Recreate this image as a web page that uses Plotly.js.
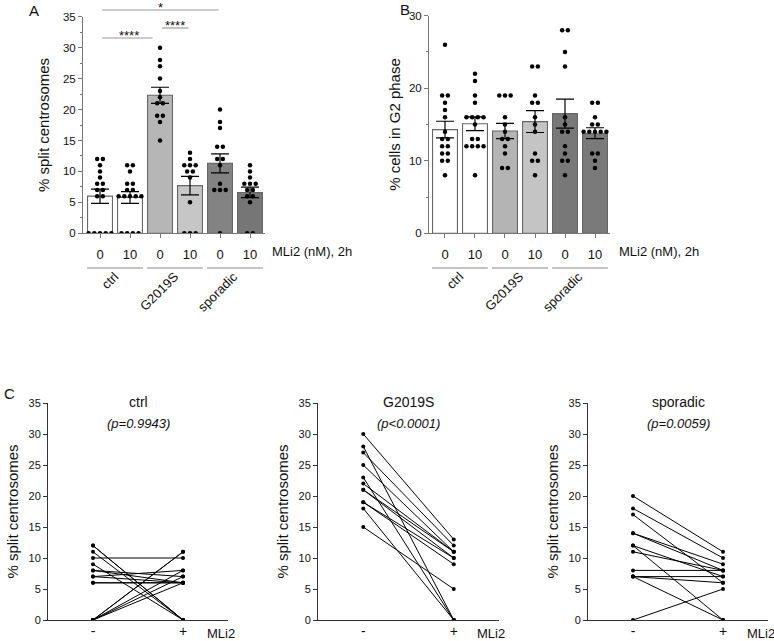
<!DOCTYPE html>
<html>
<head>
<meta charset="utf-8">
<script src="https://cdn.plot.ly/plotly-3.0.1.min.js"></script>
<style>html,body{margin:0;padding:0;background:#fff}#chart{width:774px;height:641px}</style>
</head>
<body>
<div id="chart"></div>
<script>
// ---------- data ----------
const conditions = ['0', '10', '0', '10', '0', '10'];
const groups = ['ctrl', 'G2019S', 'sporadic'];
const doseLabel = 'MLi2 (nM), 2h';

// Panel A: % split centrosomes (bar means and SEM)
const splitMean = [6.0, 5.8, 22.3, 7.7, 11.3, 6.6];
const splitSem = [1.15, 0.95, 1.3, 1.5, 1.55, 0.85];

// Panel C paired values (- MLi2 / + MLi2), also the dots of panel A
const ctrlMinus = [12, 12, 11, 9, 10, 8, 8, 7, 7, 6, 6, 0, 0, 0, 0, 0];
const ctrlPlus = [0, 0, 0, 0, 10, 7, 6, 8, 6, 6, 6, 11, 11, 8, 7, 6];
const g2019sMinus = [30, 28, 27, 25, 23, 22, 21, 21, 19, 19, 18, 15];
const g2019sPlus = [13, 0, 12, 11, 0, 11, 10, 11, 10, 9, 0, 5];
const sporadicMinus = [20, 18, 17, 14, 14, 12, 12, 11, 8, 7, 7, 7, 0];
const sporadicPlus = [11, 10, 6, 9, 8, 7, 0, 8, 8, 7, 6, 0, 5];
const pValues = ['(p=0.9943)', '(p<0.0001)', '(p=0.0059)'];

// Panel B: % cells in G2 phase
const g2Mean = [14.3, 15.1, 14.1, 15.4, 16.5, 13.8];
const g2Sem = [1.15, 0.95, 1.05, 1.5, 2.0, 0.75];
const g2Ctrl0 = [26, 19, 19, 18, 17, 16, 14, 13, 13, 12, 12, 11, 11, 10, 10, 8];
const g2Ctrl10 = [22, 21, 19, 18, 16, 16, 16, 16, 15, 13, 13, 12, 12, 12, 12, 8];
const g2G2019S0 = [19, 19, 19, 16, 15, 14, 13, 13, 12, 11, 9, 9];
const g2G2019S10 = [23, 23, 19, 18, 18, 16, 15, 14, 11, 10, 10, 8];
const g2Sporadic0 = [28, 28, 25, 23, 16, 15, 14, 14, 12, 11, 10, 10, 8];
const g2Sporadic10 = [18, 18, 16, 15, 15, 14, 14, 14, 14, 14, 11, 11, 10, 9];

// significance brackets in panel A: [from bar, to bar, label]
const sigFrom = [0, 0, 2];
const sigTo = [4, 2, 3];
const sigLabel = ['*', '****', '****'];

// ---------- styles ----------
const W = 774, H = 641;
const FONT = 'Liberation Sans, Arial, Helvetica, sans-serif';
const barFillA = ['#ffffff', '#ffffff', '#b6b6b6', '#c6c6c6', '#838383', '#767676'];
const barFillB = ['#ffffff', '#ffffff', '#b4b4b4', '#c4c4c4', '#787878', '#7a7a7a'];
const px = v => v / W;
const py = v => 1 - v / H;

function spread(vals, center, step) {
  const counts = {}, idx = {};
  vals.forEach(v => counts[v] = (counts[v] || 0) + 1);
  return vals.map(v => {
    const k = idx[v] = (idx[v] || 0);
    idx[v]++;
    return center + (k - (counts[v] - 1) / 2) * step;
  });
}
function dotTrace(sets, xa, ya) {
  const xs = [], ys = [];
  sets.forEach((s, i) => { xs.push(...spread(s, i, 0.19)); ys.push(...s); });
  return {type: 'scatter', mode: 'markers', x: xs, y: ys, xaxis: xa, yaxis: ya,
    marker: {color: '#000', size: 4.5}, hoverinfo: 'y', showlegend: false};
}
function barTrace(means, sems, fills, xa, ya) {
  return {type: 'bar', x: [0, 1, 2, 3, 4, 5], y: means, width: 0.83, xaxis: xa, yaxis: ya,
    marker: {color: fills, line: {color: '#666', width: 1.1}},
    error_y: {type: 'data', array: sems, visible: true, color: '#000', thickness: 1.2, width: 9},
    showlegend: false, hoverinfo: 'y'};
}
function pairTrace(minus, plus, xa, ya) {
  const xs = [], ys = [];
  minus.forEach((m, i) => { xs.push(0, 1, null); ys.push(m, plus[i], null); });
  return {type: 'scatter', mode: 'lines+markers', x: xs, y: ys, xaxis: xa, yaxis: ya,
    line: {color: '#000', width: 1}, marker: {color: '#000', size: 4},
    showlegend: false, hoverinfo: 'y', connectgaps: false};
}

const traces = [
  barTrace(splitMean, splitSem, barFillA, 'x', 'y'),
  dotTrace([ctrlMinus, ctrlPlus, g2019sMinus, g2019sPlus, sporadicMinus, sporadicPlus], 'x', 'y'),
  barTrace(g2Mean, g2Sem, barFillB, 'x2', 'y2'),
  dotTrace([g2Ctrl0, g2Ctrl10, g2G2019S0, g2G2019S10, g2Sporadic0, g2Sporadic10], 'x2', 'y2'),
  pairTrace(ctrlMinus, ctrlPlus, 'x3', 'y3'),
  pairTrace(g2019sMinus, g2019sPlus, 'x4', 'y4'),
  pairTrace(sporadicMinus, sporadicPlus, 'x5', 'y5')
];

const tickFontBig = {family: FONT, size: 13, color: '#111'};
const barX = (dom, lo) => ({
  domain: dom, range: [lo, 5.5], showline: true, linecolor: '#777', linewidth: 1,
  ticks: 'outside', ticklen: 4, tickcolor: '#777', tickvals: [0, 1, 2, 3, 4, 5], ticktext: conditions,
  tickfont: tickFontBig, ticklabelstandoff: 5, showgrid: false, zeroline: false, fixedrange: true
});
const barY = (dom, max, dt, title, stand) => ({
  domain: dom, range: [0, max], dtick: dt, showline: true, linecolor: '#777', linewidth: 1,
  ticks: 'outside', ticklen: 4, tickcolor: '#777', tickfont: {family: FONT, size: 11.5, color: '#111'},
  minor: {ticks: 'outside', ticklen: 2.5, dtick: dt / 2, tickcolor: '#777', showgrid: false},
  showgrid: false, zeroline: false, fixedrange: true,
  title: {text: title, font: {family: FONT, size: 15, color: '#111'}, standoff: stand}
});
const cX = (dom) => ({
  domain: dom, range: [-0.5, 1.5], showline: true, linecolor: '#333', linewidth: 1, ticks: '',
  tickvals: [0, 1], ticktext: ['-', '+'], tickfont: {family: FONT, size: 14, color: '#111'},
  ticklabelstandoff: -2, showgrid: false, zeroline: false, fixedrange: true
});
const cY = (dom) => ({
  domain: dom, range: [0, 35], dtick: 5, showline: true, linecolor: '#333', linewidth: 1,
  ticks: 'outside', ticklen: 4, tickcolor: '#333', tickfont: {family: FONT, size: 11, color: '#111'},
  showgrid: false, zeroline: false, fixedrange: true,
  title: {text: '% split centrosomes', font: {family: FONT, size: 15, color: '#111'}, standoff: 6}
});

const yDomAB = [py(233.3), py(16.7)];
const yDomC = [py(620), py(403)];

const annotations = [];
const shapes = [];
const txt = (o) => Object.assign({showarrow: false, xanchor: 'center', yanchor: 'middle',
  font: {family: FONT, size: 13, color: '#111'}}, o);

// panel letters
annotations.push(txt({xref: 'paper', yref: 'paper', x: px(34), y: py(11), text: 'A', font: {family: FONT, size: 15, color: '#111'}}));
annotations.push(txt({xref: 'paper', yref: 'paper', x: px(405), y: py(10), text: 'B', font: {family: FONT, size: 15, color: '#111'}}));
annotations.push(txt({xref: 'paper', yref: 'paper', x: px(9), y: py(393), text: 'C', font: {family: FONT, size: 15, color: '#111'}}));

// dose labels and group labels for A and B
[['x', 270], ['x2', 617]].forEach(([xa, left]) => {
  annotations.push(txt({xref: 'paper', yref: 'paper', x: px(left), y: py(252), xanchor: 'left', text: doseLabel}));
  groups.forEach((g, i) => {
    const c = 2 * i + 0.5;
    shapes.push({type: 'line', xref: xa, yref: 'paper', x0: c - 0.93, x1: c + 0.93, y0: py(268), y1: py(268),
      line: {color: '#888', width: 1}});
    annotations.push(txt({xref: xa, yref: 'paper', x: c, xshift: 9, y: py(266), xanchor: 'right', yanchor: 'top',
      textangle: -45, text: g}));
  });
});

// significance brackets in A
const sigY = [10, 38, 28];
sigFrom.forEach((f, i) => {
  shapes.push({type: 'line', xref: 'x', yref: 'paper', x0: f + 0.07, x1: sigTo[i] - (i === 1 ? 0.25 : 0.05),
    y0: py(sigY[i]), y1: py(sigY[i]), line: {color: '#999', width: 1.2}});
  annotations.push(txt({xref: 'x', yref: 'paper', x: (f + sigTo[i]) / 2 - (i === 1 ? 0.05 : 0), y: py(sigY[i] - 2),
    text: sigLabel[i], font: {family: FONT, size: 13, color: '#111'}}));
});

// panel C titles
['x3', 'x4', 'x5'].forEach((xa, i) => {
  annotations.push(txt({xref: xa, yref: 'paper', x: 0.5, y: py(402), text: groups[i], font: {family: FONT, size: 14, color: '#111'}}));
  annotations.push(txt({xref: xa, yref: 'paper', x: 0.5, y: py(423), text: '<i>' + pValues[i] + '</i>', font: {family: FONT, size: 13, color: '#111'}}));
  annotations.push(txt({xref: xa, yref: 'paper', x: 1.24, y: py(633), xanchor: 'left', text: 'MLi2'}));
});

const layout = {
  width: W, height: H, margin: {l: 0, r: 0, t: 0, b: 0}, paper_bgcolor: '#fff', plot_bgcolor: 'rgba(0,0,0,0)',
  showlegend: false, font: {family: FONT, color: '#111'}, bargap: 0.17,
  xaxis: Object.assign(barX([px(83), px(265)], -0.567), {anchor: 'y'}),
  yaxis: Object.assign(barY(yDomAB, 35, 5, '% split centrosomes', 9), {anchor: 'x'}),
  xaxis2: Object.assign(barX([px(429), px(610)], -0.533), {anchor: 'y2'}),
  yaxis2: Object.assign(barY(yDomAB, 30, 10, '% cells in G2 phase', 4), {anchor: 'x2', domain: [py(233.3), py(15.7)]}),
  xaxis3: Object.assign(cX([px(48), px(228)]), {anchor: 'y3'}),
  yaxis3: Object.assign(cY(yDomC), {anchor: 'x3'}),
  xaxis4: Object.assign(cX([px(318), px(499)]), {anchor: 'y4'}),
  yaxis4: Object.assign(cY(yDomC), {anchor: 'x4'}),
  xaxis5: Object.assign(cX([px(588), px(768)]), {anchor: 'y5'}),
  yaxis5: Object.assign(cY(yDomC), {anchor: 'x5'}),
  annotations: annotations, shapes: shapes
};

Plotly.newPlot('chart', traces, layout, {displayModeBar: false, staticPlot: true});
</script>
</body>
</html>
